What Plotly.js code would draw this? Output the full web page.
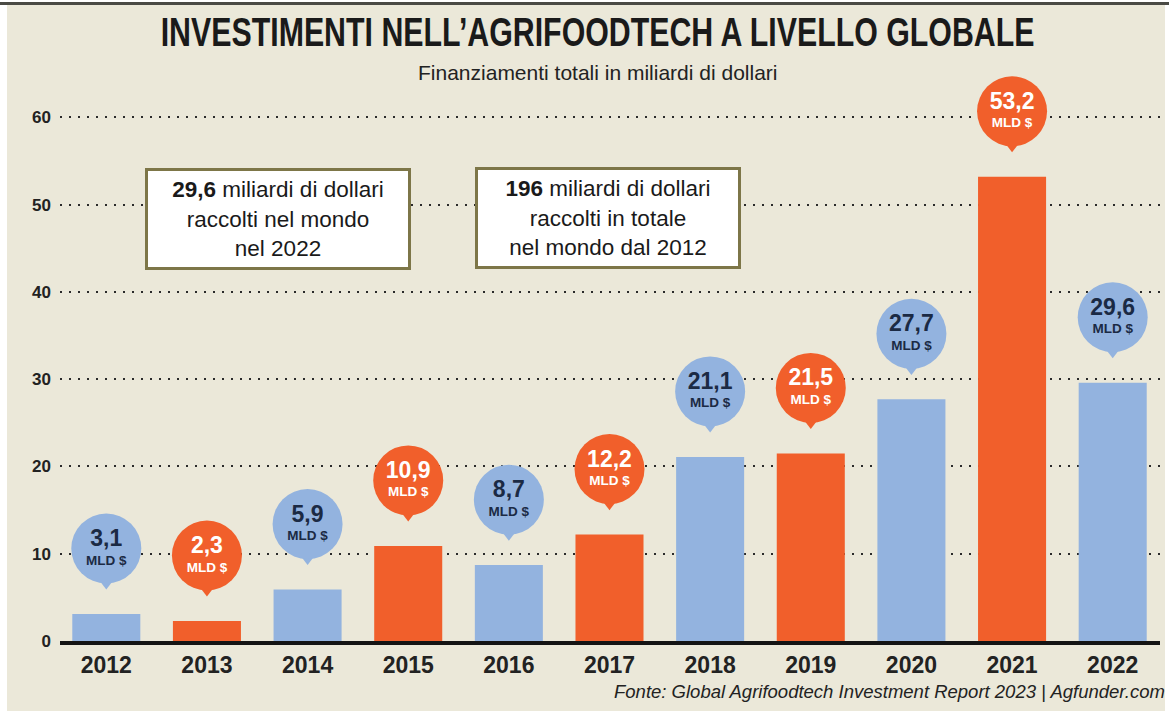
<!DOCTYPE html>
<html>
<head>
<meta charset="utf-8">
<script src="https://cdn.plot.ly/plotly-3.0.1.min.js"></script>
<style>
  html, body { margin: 0; padding: 0; background: #ffffff; }
  #wrap { position: relative; width: 1169px; height: 711px; background: #ffffff; overflow: hidden; }
  #topline { position: absolute; left: 0; top: 2px; width: 1169px; height: 3px; background: #4a4a44; }
  #chart { position: absolute; left: 7px; top: 5px; width: 1158px; height: 706px; }
</style>
</head>
<body>
<div id="wrap">
  <div id="topline"></div>
  <div id="chart"></div>
</div>
<script>
// ---- data ----
const years = ["2012","2013","2014","2015","2016","2017","2018","2019","2020","2021","2022"];
const values = [3.1, 2.3, 5.9, 10.9, 8.7, 12.2, 21.1, 21.5, 27.7, 53.2, 29.6];
const valueLabels = ["3,1","2,3","5,9","10,9","8,7","12,2","21,1","21,5","27,7","53,2","29,6"];
const unitLabel = "MLD $";
const yTicks = [0, 10, 20, 30, 40, 50, 60];

const titleText = "INVESTIMENTI NELL’AGRIFOODTECH A LIVELLO GLOBALE";
const subtitleText = "Finanziamenti totali in miliardi di dollari";
const box1Lines = ["<b>29,6</b> miliardi di dollari", "raccolti nel mondo", "nel 2022"];
const box2Lines = ["<b>196</b> miliardi di dollari", "raccolti in totale", "nel mondo dal 2012"];
const sourceText = "Fonte: Global Agrifoodtech Investment Report 2023 | Agfunder.com";

// ---- styles ----
const BLUE = "#93b3df", ORANGE = "#f15f2b", BG = "#ebe8d9";
const SANS = "Liberation Sans, Arial, sans-serif";
const colors = values.map((v, i) => i % 2 === 0 ? BLUE : ORANGE);
const textColors = values.map((v, i) => i % 2 === 0 ? "#1b2a44" : "#ffffff");
const LIFT = 7.5; // bubble centre above bar top, in data units

const bars = {
  type: "bar", x: years, y: values,
  marker: { color: colors, line: { width: 0 } },
  hoverinfo: "skip"
};
const pointers = {
  type: "scatter", mode: "markers", x: years,
  y: values.map(v => v + LIFT - 3.9),
  marker: { symbol: "triangle-down", size: 14, color: colors, line: { width: 0 } },
  hoverinfo: "skip", cliponaxis: false
};
const bubbles = {
  type: "scatter", mode: "markers", x: years,
  y: values.map(v => v + LIFT),
  marker: { symbol: "circle", size: 70, color: colors, line: { width: 0 } },
  hoverinfo: "skip", cliponaxis: false
};
const numText = {
  type: "scatter", mode: "text", x: years,
  y: values.map(v => v + LIFT + 0.95),
  text: valueLabels.map(t => "<b>" + t + "</b>"),
  textposition: "middle center",
  textfont: { family: SANS, size: 23, color: textColors },
  hoverinfo: "skip", cliponaxis: false
};
const unitText = {
  type: "scatter", mode: "text", x: years,
  y: values.map(v => v + LIFT - 1.45),
  text: values.map(() => "<b>" + unitLabel + "</b>"),
  textposition: "middle center",
  textfont: { family: SANS, size: 13.5, color: textColors },
  hoverinfo: "skip", cliponaxis: false
};

const boxStyle = {
  xref: "paper", yref: "paper", showarrow: false,
  bgcolor: "#ffffff", bordercolor: "#7d7648", borderwidth: 3, borderpad: 2,
  width: 256, height: 92, align: "center",
  font: { family: SANS, size: 22.5, color: "#1a1a1a" }
};

const layout = {
  width: 1158, height: 706,
  margin: { l: 53, r: 5, t: 95, b: 70 },
  paper_bgcolor: BG, plot_bgcolor: BG,
  showlegend: false,
  bargap: 0.324,
  title: {
    text: "<b>" + titleText + "</b>",
    xref: "container", x: 0.51, xanchor: "center",
    yref: "container", y: 0.962, yanchor: "middle",
    font: { family: SANS, size: 41, color: "#1a1a1a" }
  },
  xaxis: {
    type: "category", range: [-0.46, 10.47],
    showgrid: false, zeroline: false,
    showline: true, linecolor: "#141414", linewidth: 4,
    ticks: "", ticklabelstandoff: 0,
    tickfont: { family: SANS, size: 23, weight: "bold", color: "#222222" },
    fixedrange: true
  },
  yaxis: {
    range: [0, 62], tickvals: yTicks, ticktext: yTicks.map(String),
    showgrid: true, gridcolor: "#2a2a2a", gridwidth: 2, griddash: "2px,7px",
    zeroline: false, showline: false, ticks: "", ticklabelstandoff: 8,
    tickfont: { family: SANS, size: 17, weight: "bold", color: "#222222" },
    fixedrange: true
  },
  annotations: [
    {
      text: subtitleText, xref: "paper", yref: "paper", x: 0.489, y: 1.05,
      xanchor: "center", yanchor: "middle", showarrow: false,
      font: { family: SANS, size: 21, color: "#222222" }
    },
    Object.assign({}, boxStyle, { text: box1Lines.join("<br>"), x: 0.198, y: 0.780, xanchor: "center", yanchor: "middle" }),
    Object.assign({}, boxStyle, { text: box2Lines.join("<br>"), x: 0.498, y: 0.781, xanchor: "center", yanchor: "middle" }),
    {
      text: "<i>" + sourceText + "</i>", xref: "paper", yref: "paper", x: 0.502, y: -0.094,
      xanchor: "left", yanchor: "middle", showarrow: false,
      font: { family: SANS, size: 18.5, color: "#222222" }
    }
  ]
};

Plotly.newPlot("chart", [bars, pointers, bubbles, numText, unitText], layout, { displayModeBar: false, staticPlot: true })
  .then(() => {
    // condense the title horizontally, like the original's condensed typeface
    const t = document.querySelector("#chart .gtitle");
    if (t) {
      t.style.transformBox = "fill-box";
      t.style.transformOrigin = "50% 50%";
      t.style.transform = "scaleX(0.74)";
    }
  });
</script>
</body>
</html>
